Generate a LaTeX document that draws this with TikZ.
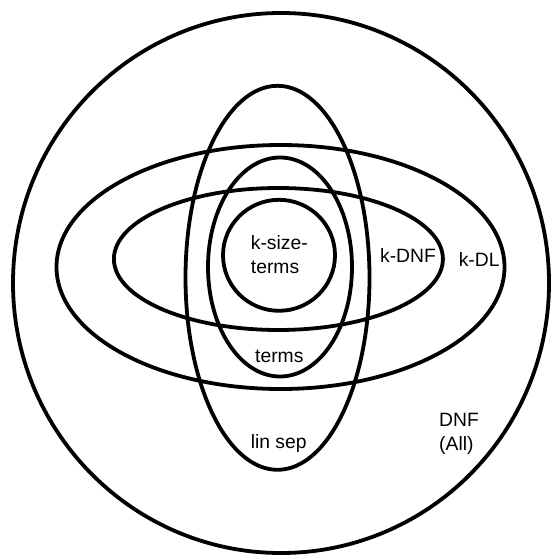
\documentclass[tikz,border=0pt]{standalone}
\usepackage{fontspec}
\setmainfont{Liberation Sans}
\usetikzlibrary{shapes.geometric}
\begin{document}
\begin{tikzpicture}[x=1pt,y=-1pt,
  region/.style 2 args={draw, ellipse, line width=3.8pt, inner sep=0pt,
    minimum width=#1pt, minimum height=#2pt},
  lbl/.style={font=\fontsize{19.3}{24}\selectfont, inner sep=0pt}]
\useasboundingbox (0,0) rectangle (550,556);
\node[region={536}{540}] (dnf) at (281,283) {};
\node[region={448}{244}] (kdl) at (280.5,267) {};
\node[region={329}{142}] (kdnf) at (278.4,259) {};
\node[region={184}{384}] (linsep) at (277.5,277.8) {};
\node[region={144}{219}] (terms) at (280,267) {};
\node[region={112}{111}] (ksize) at (279,255.3) {};
\node[lbl, anchor=base west] (lksize1) at (250.7,249.3) {k-size-};
\node[lbl, anchor=base west] (lksize2) at (250.7,273.3) {terms};
\node[lbl, anchor=base] (lkdnf) at (408,262.7) {k-DNF};
\node[lbl, anchor=base] (lkdl) at (479.2,266) {k-DL};
\node[lbl, anchor=base] (lterms) at (279.3,362.3) {terms};
\node[lbl, anchor=base] (llinsep) at (278.7,448) {lin sep};
\node[lbl, anchor=base west] (ldnf1) at (439,426) {DNF};
\node[lbl, anchor=base west] (ldnf2) at (439,450.5) {(All)};
\end{tikzpicture}
\end{document}
